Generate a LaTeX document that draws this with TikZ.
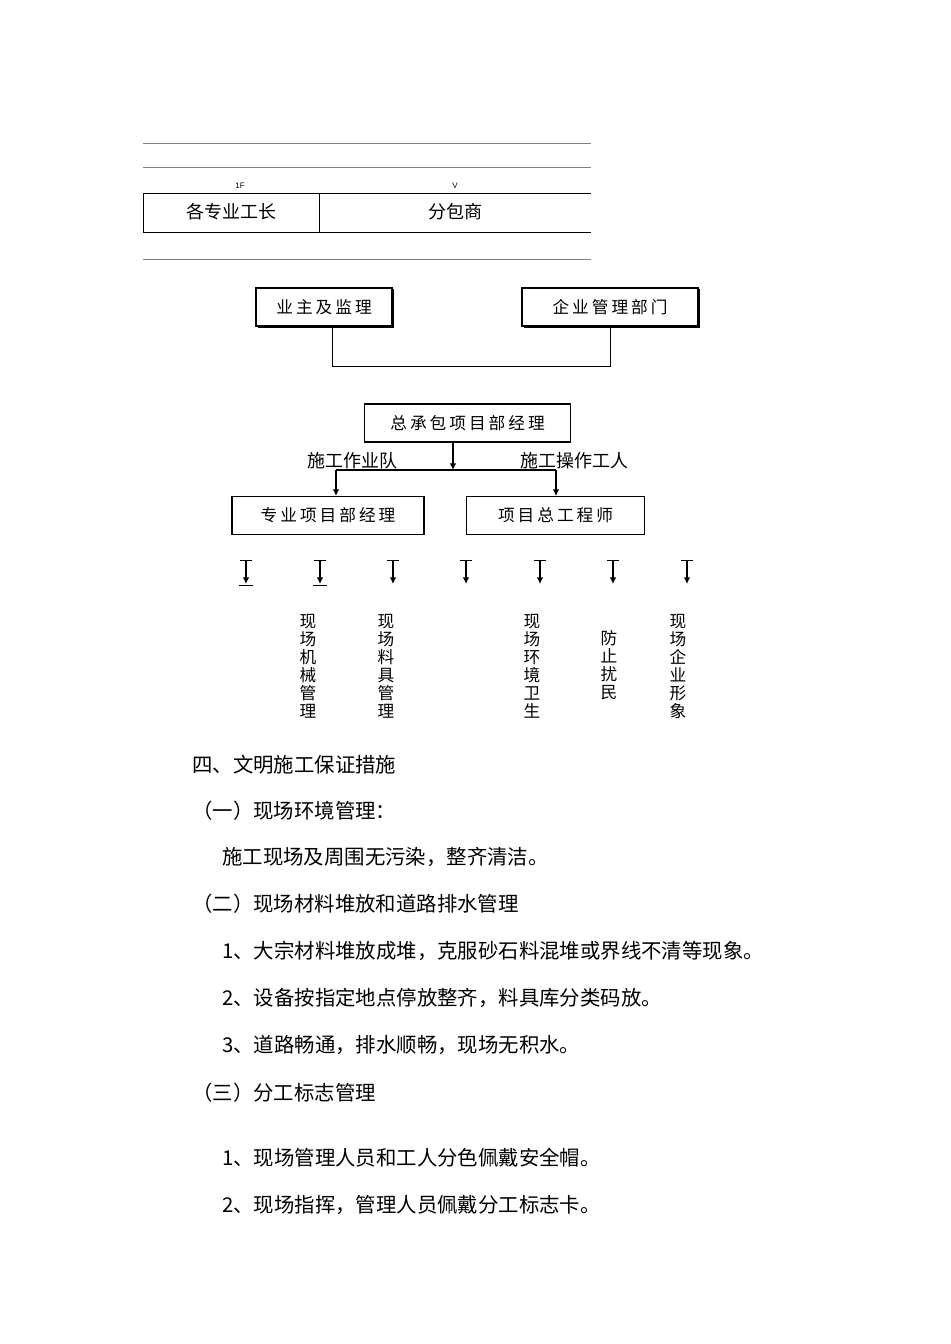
\documentclass[tikz,border=0pt]{standalone}
\usepackage{fontspec}
\usetikzlibrary{arrows.meta}
\setmainfont{Liberation Sans}
\newfontfamily\cjk{Noto Sans CJK SC}
\newfontfamily\cjksp{Noto Sans CJK SC}[LetterSpace=18]
\begin{document}
\begin{tikzpicture}[x=0.75pt,y=-0.75pt,
  box/.style={draw,thick,minimum height=28.5pt,inner sep=0pt,font=\cjksp\fontsize{12.5}{15}\selectfont},
  ln/.style={line width=0.6pt},
  arr/.style={line width=0.9pt,-{Latex[length=5pt,width=5pt]}},
  para/.style={anchor=west,inner sep=0pt,font=\cjk\fontsize{15.3}{17}\selectfont},
  vt/.style={anchor=north,inner sep=0pt,align=center,font=\cjk\fontsize{12.5}{13.5}\selectfont}]
\useasboundingbox (0,0) rectangle (950,1344);
% top table
\draw[ln,gray] (143,143) -- (591,143);
\draw[ln,gray] (143,167) -- (591,167);
\draw[ln,gray] (143,259) -- (591,259);
\draw[ln] (591,193) -- (143,193) -- (143,232) -- (591,232);
\draw[ln] (319,193) -- (319,232);
\node[font=\fontsize{6}{7}\selectfont] (f1) at (240,186) {1F};
\node[font=\fontsize{6}{7}\selectfont] (fv) at (455,186) {V};
\node[font=\cjk\fontsize{13.5}{15}\selectfont] (gz) at (231,212) {各专业工长};
\node[font=\cjk\fontsize{13.5}{15}\selectfont] (fb) at (455,212) {分包商};
% boxes
\node[box,minimum width=102pt,line width=1pt] (yz) at (324,307) {业主及监理};
\node[box,minimum width=132pt,line width=1pt] (qy) at (610,307) {企业管理部门};
\draw[line width=1.4pt] (258,327) -- (393,327) -- (393,289);
\draw[line width=1.4pt] (524,327) -- (699,327) -- (699,289);
\draw[ln] (332,326) -- (332,366) -- (610,366) -- (610,326);
\node[box,minimum width=154pt] (zc) at (467.5,423) {总承包项目部经理};
\node[box,minimum width=144pt] (zy) at (328,515.5) {专业项目部经理};
\node[box,minimum width=133pt] (xm) at (555.5,515.5) {项目总工程师};
\coordinate (j) at (453,470);
\draw[arr] (zc.south -| j) -- (j);
\draw[line width=0.9pt] (336,470) -- (556,470);
\draw[arr] (336,470) -- (zy.north -| 336,0);
\draw[arr] (556,470) -- (xm.north -| 556,0);
\node[font=\cjk\fontsize{13.5}{15}\selectfont] (l1) at (352,461) {施工作业队};
\node[font=\cjk\fontsize{13.5}{15}\selectfont] (l2) at (574,461) {施工操作工人};
% small arrows
\foreach \x/\n in {246/a1,320/a2,393/a3,466/a4,540/a5,613/a6,687/a7}{
  \coordinate (\n t) at (\x,560);
  \coordinate (\n b) at (\x,584);
  \draw[arr] (\n t) -- (\n b);
  \draw[ln] (\x-6,560) -- (\x+6,560);
}
\draw[ln] (239,585) -- (253,585);
\draw[ln] (313,585) -- (327,585);
\node[vt] (v1) at (308,614) {现\\场\\机\\械\\管\\理};
\node[vt] (v2) at (386,614) {现\\场\\料\\具\\管\\理};
\node[vt] (v3) at (532,614) {现\\场\\环\\境\\卫\\生};
\node[vt] (v4) at (609,630) {防\\止\\扰\\民};
\node[vt] (v5) at (678,614) {现\\场\\企\\业\\形\\象};
% text
\node[para] (p1) at (192,765) {四、文明施工保证措施};
\node[para] (p2) at (192,811) {（一）现场环境管理：};
\node[para] (p3) at (222,857) {施工现场及周围无污染，整齐清洁。};
\node[para] (p4) at (192,904) {（二）现场材料堆放和道路排水管理};
\node[para] (p5) at (222,951) {1、大宗材料堆放成堆，克服砂石料混堆或界线不清等现象。};
\node[para] (p6) at (222,998) {2、设备按指定地点停放整齐，料具库分类码放。};
\node[para] (p7) at (222,1045) {3、道路畅通，排水顺畅，现场无积水。};
\node[para] (p8) at (192,1093) {（三）分工标志管理};
\node[para] (p9) at (222,1158) {1、现场管理人员和工人分色佩戴安全帽。};
\node[para] (p10) at (222,1205) {2、现场指挥，管理人员佩戴分工标志卡。};
\end{tikzpicture}
\end{document}
